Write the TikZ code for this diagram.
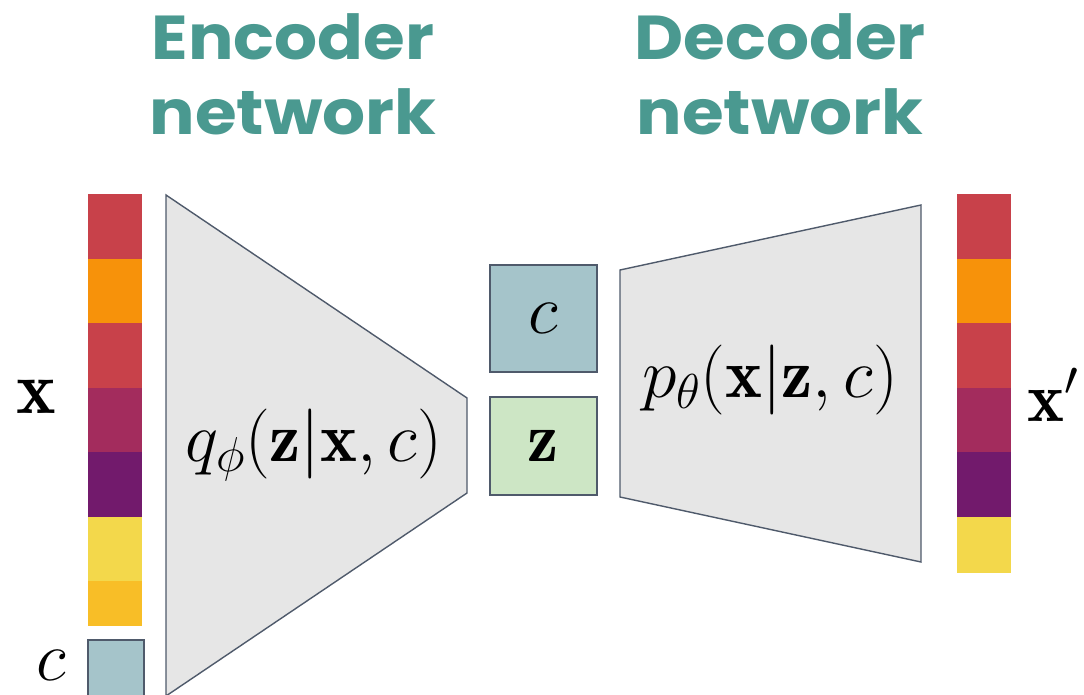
\RequirePackage{fix-cm}
\documentclass[tikz,border=0pt]{standalone}
\usepackage{fontspec}
\newfontfamily\titlefont{Poppins}[FakeStretch=1.09]
\usetikzlibrary{positioning}

\definecolor{cellred}{HTML}{C8414A}
\definecolor{cellorange}{HTML}{F7920A}
\definecolor{cellmagenta}{HTML}{A32C5D}
\definecolor{cellpurple}{HTML}{721A6C}
\definecolor{cellyellow}{HTML}{F3D84B}
\definecolor{cellgold}{HTML}{F8BE27}
\definecolor{titleteal}{HTML}{4A9990}
\definecolor{netgrey}{HTML}{E6E6E6}
\definecolor{edgegrey}{HTML}{4F5A6B}
\definecolor{condblue}{HTML}{A5C4CA}
\definecolor{latgreen}{HTML}{CDE6C5}

\tikzset{
    layer/.style={draw=edgegrey, fill=netgrey, line width=1.4pt, line join=miter},
    condbox/.style={draw=edgegrey, fill=condblue, line width=1.4pt},
    latbox/.style={draw=edgegrey, fill=latgreen, line width=1.4pt},
    nettitle/.style={text=titleteal, font=\titlefont\bfseries\fontsize{62}{72}\selectfont, anchor=base, inner sep=0pt},
    mathlbl/.style={font=\fontsize{70}{80}\selectfont, inner sep=0pt},
}

\begin{document}
\begin{tikzpicture}[x=1pt, y=-1pt]
    \clip (0,0) rectangle (1084,695);

    % Titles
    \node[nettitle] (enctitle) at (293,60) {Encoder};
    \node[nettitle] (encsub) at (293,135) {network};
    \node[nettitle] (dectitle) at (780,60) {Decoder};
    \node[nettitle] (decsub) at (780,135) {network};

    % Input x
    \foreach \col [count=\i from 0] in {cellred,cellorange,cellred,cellmagenta,cellpurple,cellyellow} {
        \fill[\col] (88,194+\i*64.5) rectangle (142,258.5+\i*64.5);
    }
    \fill[cellgold] (88,581) rectangle (142,626);
    \node[mathlbl, font=\fontsize{75}{85}\selectfont] (xin) at (36,397) {$\mathbf{x}$};

    % Condition c
    \draw[condbox] (88,640) rectangle (144,705);
    \node[mathlbl] (cin) at (51,665) {$c$};

    % Encoder network
    \draw[layer] (166,195) -- (467,398) -- (467,493) -- (166,696) -- cycle;
    \node[mathlbl] (qenc) at (314,445) {$q_\phi(\mathbf{z}|\mathbf{x},c)$};

    % Latent code
    \draw[condbox] (490,265) rectangle (597,372);
    \node[mathlbl] (cmid) at (543.5,318.5) {$c$};
    \draw[latbox] (490,397) rectangle (597,495);
    \node[mathlbl] (zmid) at (543.5,446) {$\mathbf{z}$};

    % Decoder network
    \draw[layer] (620,270) -- (921,205) -- (921,562) -- (620,497) -- cycle;
    \node[mathlbl] (pdec) at (770,380) {$p_\theta(\mathbf{x}|\mathbf{z},c)$};

    % Output x'
    \foreach \col [count=\i from 0] in {cellred,cellorange,cellred,cellmagenta,cellpurple} {
        \fill[\col] (957,194+\i*64.5) rectangle (1011,258.5+\i*64.5);
    }
    \fill[cellyellow] (957,516.5) rectangle (1011,573);
    \node[mathlbl] (xout) at (1053,395) {$\mathbf{x}'$};
\end{tikzpicture}
\end{document}
